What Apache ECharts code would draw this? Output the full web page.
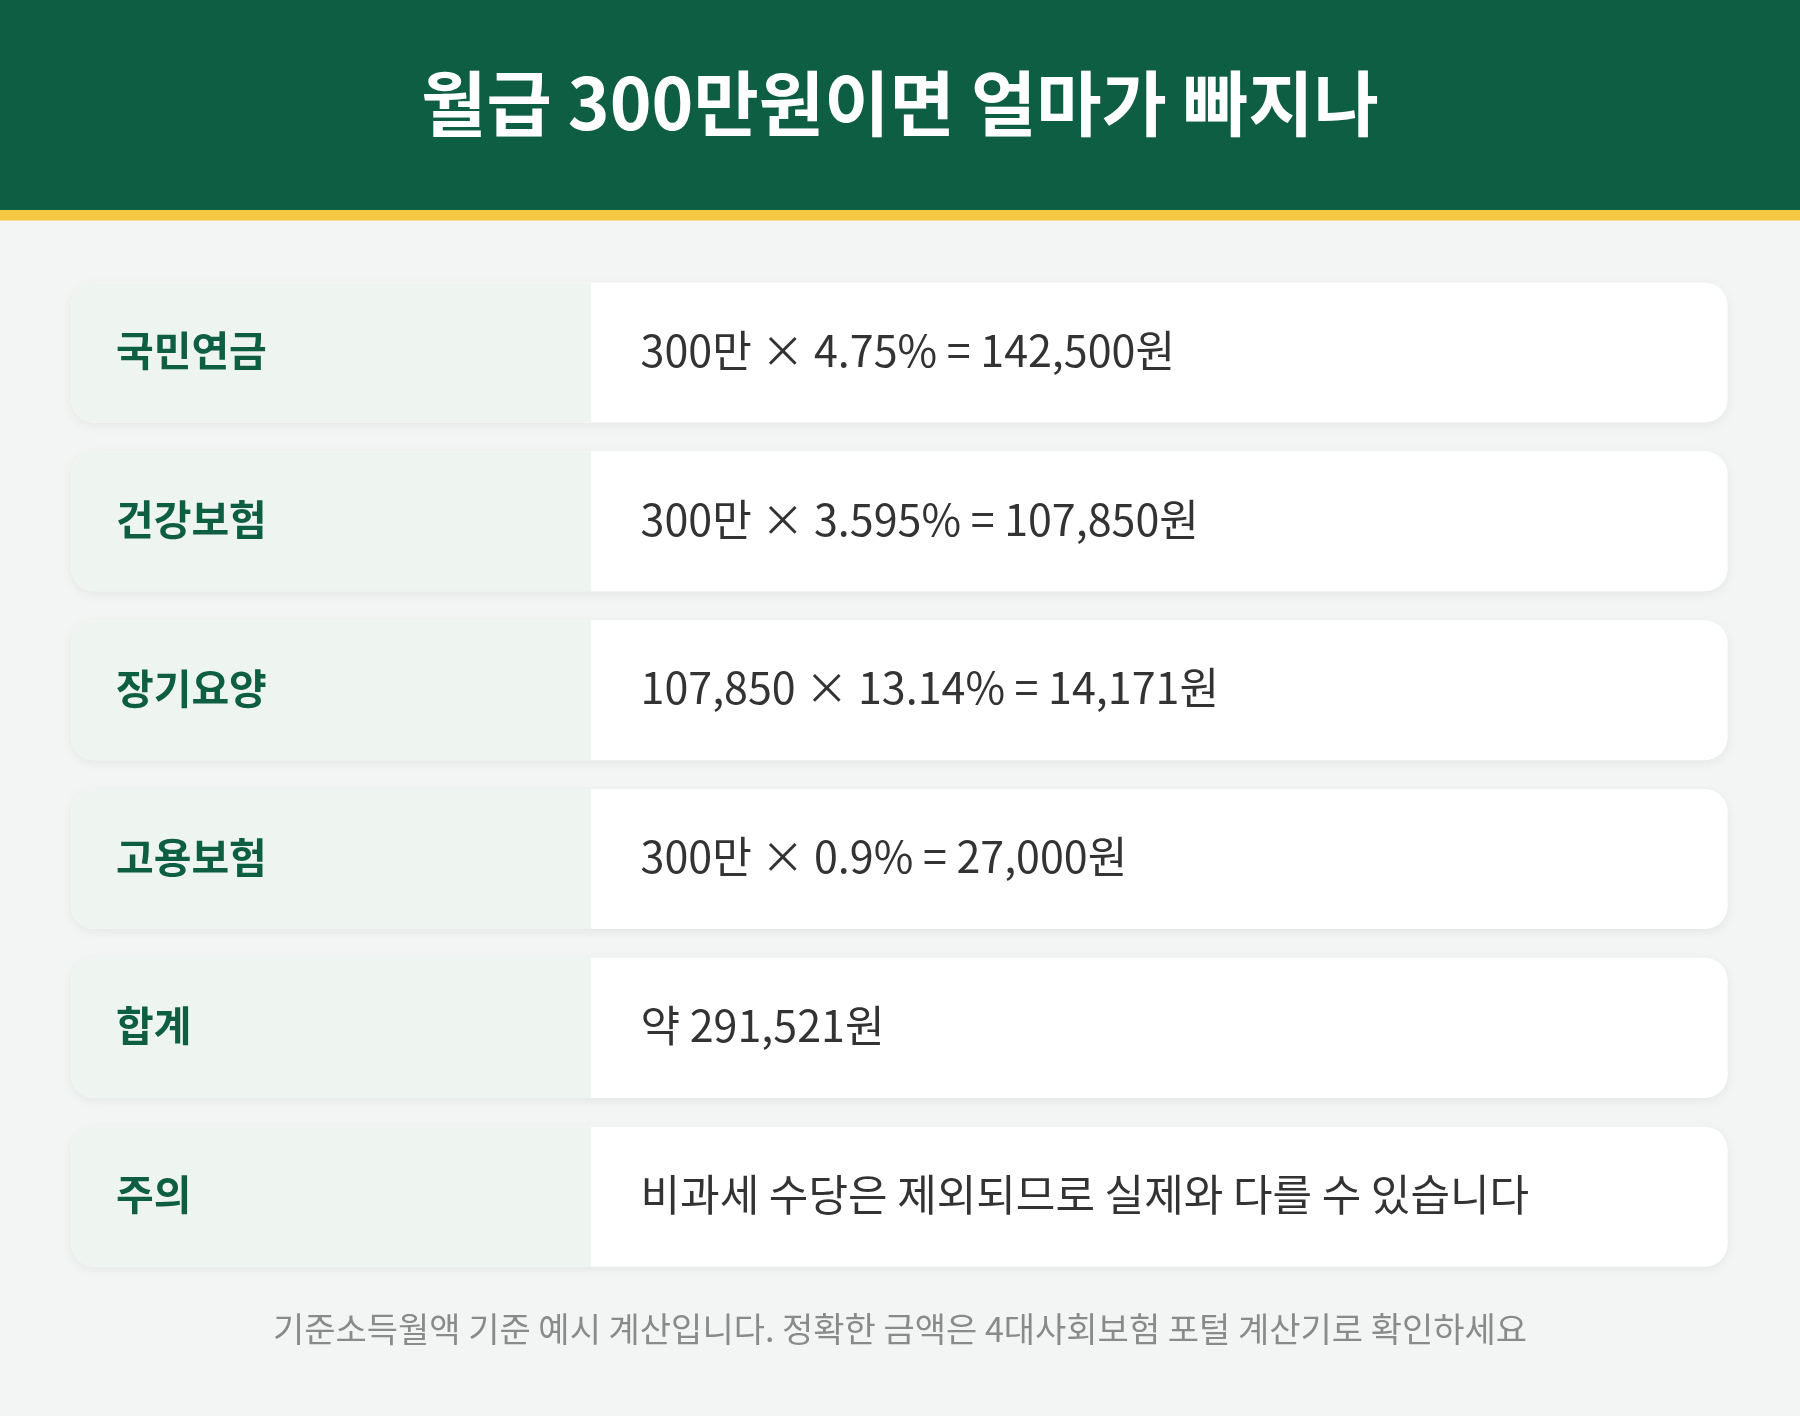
<!DOCTYPE html>
<html><head><meta charset="utf-8">
<script src="https://cdn.jsdelivr.net/npm/echarts@6/dist/echarts.min.js"></script>
<style>html,body{margin:0;padding:0;background:#f3f5f4}#c{width:1800px;height:1416px}</style>
</head><body><div id="c"></div>
<script>
const title = '월급 300만원이면 얼마가 빠지나';
const labels = ['국민연금','건강보험','장기요양','고용보험','합계','주의'];
const values = ['300만 × 4.75% = 142,500원','300만 × 3.595% = 107,850원','107,850 × 13.14% = 14,171원','300만 × 0.9% = 27,000원','약 291,521원','비과세 수당은 제외되므로 실제와 다를 수 있습니다'];
const footnote = '기준소득월액 기준 예시 계산입니다. 정확한 금액은 4대사회보험 포털 계산기로 확인하세요';

const s = 1800/1568;
const F = '"Noto Sans CJK KR","Noto Sans",sans-serif';
const chart = echarts.init(document.getElementById('c'));
const g = [];
g.push({type:'rect',shape:{x:0,y:0,width:1800,height:1416},style:{fill:'#f3f5f4'},silent:true});
g.push({type:'rect',shape:{x:0,y:0,width:1800,height:184*s},style:{fill:'#0d5e42'}});
g.push({type:'rect',shape:{x:0,y:183*s,width:1800,height:9*s},style:{fill:'#f5c842'}});
g.push({type:'text',x:900,y:90*s,style:{text:title,fill:'#fff',font:'bold '+Math.round(62*s)+'px '+F,align:'center',verticalAlign:'middle'}});
const x0=62*s, x1=1505*s, xm=515*s, h=122*s, r=20*s;
labels.forEach((lab,i)=>{
  const y=(246+i*147.1)*s;
  g.push({type:'rect',shape:{x:x0,y:y,width:x1-x0,height:h,r:r},style:{fill:'#fff',shadowBlur:12,shadowColor:'rgba(0,0,0,0.06)',shadowOffsetY:3}});
  g.push({type:'rect',shape:{x:x0,y:y,width:xm-x0,height:h,r:[r,0,0,r]},style:{fill:'#eef4f0'}});
  g.push({type:'text',x:101*s,y:y+h/2-2,style:{text:lab,fill:'#0d5e42',font:'bold '+Math.round(36*s)+'px '+F,verticalAlign:'middle'}});
  g.push({type:'text',x:558*s,y:y+h/2-2,style:{text:values[i],fill:'#333',font:Math.round(37.3*s)+'px '+F,verticalAlign:'middle'}});
});
g.push({type:'text',x:784*s,y:1158*s,style:{text:footnote,fill:'#8a8a8a',font:Math.round(29.5*s)+'px '+F,align:'center',verticalAlign:'middle'}});
chart.setOption({animation:false,graphic:{elements:g}});
</script></body></html>
